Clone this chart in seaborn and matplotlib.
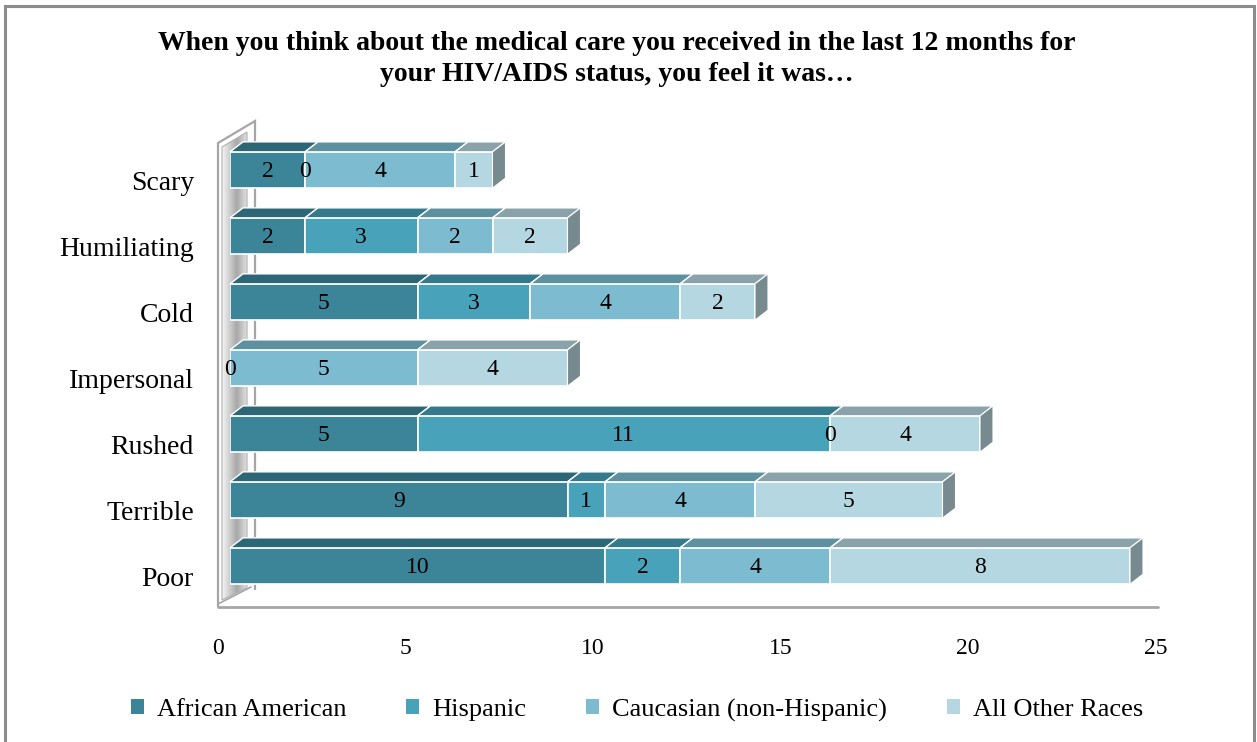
import numpy as np
import pandas as pd
import matplotlib
matplotlib.use("Agg")
import matplotlib.pyplot as plt
import matplotlib.transforms as mtransforms
from matplotlib.patches import Polygon, Rectangle, Patch
import seaborn as sns

# ---- data -------------------------------------------------------------
categories = ["Scary", "Humiliating", "Cold", "Impersonal", "Rushed", "Terrible", "Poor"]
series_names = ["African American", "Hispanic", "Caucasian (non-Hispanic)", "All Other Races"]
african_american = [2, 2, 5, 0, 5, 9, 10]
hispanic = [0, 3, 3, np.nan, 11, 1, 2]
caucasian = [4, 2, 4, 5, 0, 4, 4]
other_races = [1, 2, 2, 4, 4, 5, 8]
x_ticks = [0, 5, 10, 15, 20, 25]
title = ("When you think about the medical care you received in the last 12 months for\n"
         "your HIV/AIDS status, you feel it was…")

# ---- style ------------------------------------------------------------
front_colors = ["#3c8599", "#47a2ba", "#7dbbd0", "#b5d7e2"]
top_colors = ["#2d6675", "#357a8c", "#5e919f", "#8aa3ab"]
side_colors = ["#2a5f6c", "#316f80", "#5a8591", "#778a90"]

sns.set_theme(style="white")
plt.rcParams["font.family"] = ["Liberation Serif", "DejaVu Serif"]
plt.rcParams["text.color"] = "black"
plt.rcParams["xtick.color"] = "black"
plt.rcParams["ytick.color"] = "black"

W, H = 1257, 742
fig = plt.figure(figsize=(W / 100, H / 100), dpi=100)
fig.patch.set_facecolor("white")


def px(x, y):
    """Pixel position (from top-left) to figure fraction."""
    return (x / W, 1 - y / H)


# plot area: x=0 at the front face of the bars, 37.5 px per unit
x0_px, unit_px = 230.0, 37.5
row_px = 66.0
first_row_px = 170.0
floor_px = 607.0
top_px = 110.0
ax_left, ax_right = x0_px, x0_px + 25 * unit_px
ax = fig.add_axes([ax_left / W, 1 - floor_px / H, (ax_right - ax_left) / W, (floor_px - top_px) / H])
ax.set_facecolor("none")
ax.set_zorder(2)

values = pd.DataFrame({
    "category": categories,
    series_names[0]: african_american,
    series_names[1]: hispanic,
    series_names[2]: caucasian,
    series_names[3]: other_races,
})

bar_h = 0.55
lefts = np.zeros(len(categories))
segments = []  # (series idx, row idx, left, width, raw value)
for s, name in enumerate(series_names):
    raw = values[name].to_numpy(dtype=float)
    widths = np.nan_to_num(raw, nan=0.0)
    sns.barplot(x=widths, y=categories, order=categories, orient="h", ax=ax,
                left=lefts.copy(), color=front_colors[s], width=bar_h,
                edgecolor="white", linewidth=1.2, saturation=1, zorder=3)
    for i in range(len(categories)):
        segments.append((s, i, lefts[i], widths[i], raw[i]))
    lefts = lefts + widths

ax.set_xlim(0, 25)
ylim_bottom = (len(categories) - 1) + (floor_px - (first_row_px + (len(categories) - 1) * row_px)) / row_px
ylim_top = (top_px - first_row_px) / row_px
ax.set_ylim(ylim_bottom, ylim_top)

# depth of the bars, in data units
ddx = 13 / unit_px
ddy = 10 / row_px

for s, i, left, w, raw in segments:
    if w <= 0:
        continue
    top = i - bar_h / 2
    ax.add_patch(Polygon([(left, top), (left + w, top), (left + w + ddx, top - ddy), (left + ddx, top - ddy)],
                         closed=True, facecolor=top_colors[s], edgecolor="white", linewidth=1.0,
                         zorder=3, clip_on=False))

# right-hand side face on the last visible segment of each bar
for i in range(len(categories)):
    end = lefts[i]
    last = max(s for s, r, l, w, v in segments if r == i and w > 0)
    top, bot = i - bar_h / 2, i + bar_h / 2
    ax.add_patch(Polygon([(end, top), (end + ddx, top - ddy), (end + ddx, bot - ddy), (end, bot)],
                         closed=True, facecolor=side_colors[last], edgecolor="white", linewidth=0.8,
                         zorder=3, clip_on=False))

# value labels
for s, i, left, w, raw in segments:
    if np.isnan(raw):
        continue
    ax.text(left + w / 2, i + 0.03, f"{int(raw)}", ha="center", va="center",
            fontsize=17, color="black", zorder=5)

# ---- axes, ticks ------------------------------------------------------
for sp in ax.spines.values():
    sp.set_visible(False)
ax.set_xlabel("")
ax.set_ylabel("")
ax.set_xticks(x_ticks)
ax.set_xticklabels([str(t) for t in x_ticks])
ax.tick_params(axis="x", length=0, pad=22, labelsize=17)
ax.tick_params(axis="y", length=0, pad=26, labelsize=20)
shift_x = mtransforms.ScaledTranslation(-12 / 100, 0, fig.dpi_scale_trans)
for lab in ax.get_xticklabels():
    lab.set_transform(lab.get_transform() + shift_x)
shift_y = mtransforms.ScaledTranslation(0, -10 / 100, fig.dpi_scale_trans)
for lab in ax.get_yticklabels():
    lab.set_transform(lab.get_transform() + shift_y)

# ---- wall and floor ---------------------------------------------------
wall_outline = [px(218, 607), px(218, 143), px(255, 121), px(255, 590)]
fig.patches.append(Polygon(wall_outline, closed=False, transform=fig.transFigure,
                           facecolor="none", edgecolor="#a6a6a6", linewidth=1.6, zorder=1))
inner = Polygon([px(222, 600), px(222, 147), px(247, 132), px(247, 588)], closed=True,
                transform=fig.transFigure, facecolor="none", edgecolor="#b0b0b0", linewidth=0.8, zorder=1)
fig.patches.append(inner)
grad_ax = fig.add_axes([222 / W, 1 - 600 / H, 25 / W, (600 - 132) / H])
grad_ax.set_axis_off()
grad_ax.set_zorder(1)
gradient = np.tile(np.concatenate([np.linspace(0.96, 0.66, 60), np.linspace(0.66, 0.88, 40)]), (2, 1))
im = grad_ax.imshow(gradient, cmap="gray", vmin=0, vmax=1, aspect="auto",
                    extent=[0, 1, 0, 1], interpolation="bilinear")
clip = Polygon([px(222, 600), px(222, 147), px(247, 132), px(247, 588)], closed=True,
               transform=fig.transFigure, facecolor="none", edgecolor="none")
fig.patches.append(clip)
im.set_clip_path(clip)

fig.lines.append(plt.Line2D([218 / W, 1158 / W], [1 - 607 / H] * 2, transform=fig.transFigure,
                            color="#a6a6a6", linewidth=2.0, zorder=1))
fig.lines.append(plt.Line2D([218 / W, 251 / W], [1 - 604 / H, 1 - 587 / H], transform=fig.transFigure,
                            color="#a6a6a6", linewidth=1.2, zorder=1))

# ---- title, legend, frame ---------------------------------------------
fig.text(617 / W, 1 - 59 / H, title, ha="center", va="center", fontsize=20,
         fontweight="bold", linespacing=1.3, color="black")

handles = [Patch(facecolor=c, edgecolor="none") for c in front_colors]
fig.legend(handles, series_names, loc="center", bbox_to_anchor=px(637, 710), ncol=4,
           frameon=False, fontsize=19, handlelength=0.5, handleheight=0.5,
           handletextpad=0.5, columnspacing=2.25, labelcolor="black")

fig.patches.append(Rectangle((5 / W, -0.01), (1254 - 5) / W, 1 - 6 / H + 0.01, transform=fig.transFigure,
                             facecolor="none", edgecolor="#8c8c8c", linewidth=2.2, zorder=0))

fig.savefig("out.png", dpi=100, facecolor="white")
